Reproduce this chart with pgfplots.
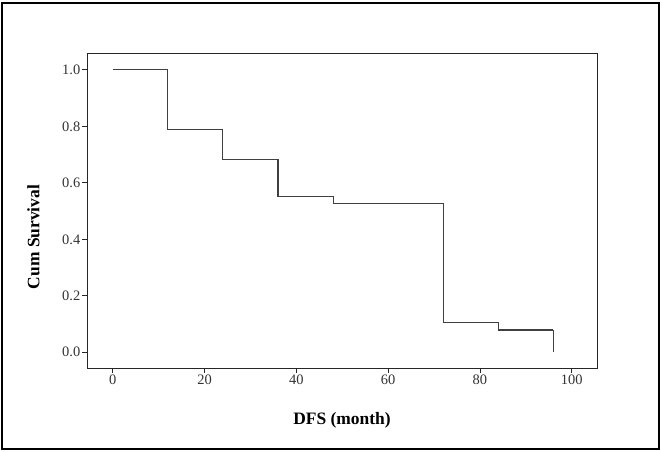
\documentclass[border=0pt]{standalone}
\usepackage{pgfplots}
\pgfplotsset{compat=1.18}
\usepackage{fontspec}
\setmainfont{Liberation Serif}
\begin{document}
\begin{tikzpicture}[x=1bp,y=1bp]
\useasboundingbox (-87,-84) rectangle (575,368);
\begin{axis}[
  at={(0,0)}, anchor=south west,
  scale only axis, width=510bp, height=315bp,
  xmin=-5.6, xmax=105.5, ymin=-0.0556, ymax=1.060,
  xtick={0,20,40,60,80,100},
  ytick={0,0.2,0.4,0.6,0.8,1.0},
  yticklabel style={/pgf/number format/fixed,/pgf/number format/fixed zerofill,/pgf/number format/precision=1,inner sep=1.5bp},
  /pgf/number format/assume math mode=true,
  tick pos=left,
  tick align=outside,
  major tick length=5bp,
  axis line style={black!85, line width=0.9pt},
  every tick/.style={black!85, line width=0.9pt},
  tick label style={font=\fontsize{14.5}{16}\selectfont, text=black!80},
  xticklabel style={inner sep=2bp},
  xlabel={\textbf{DFS (month)}},
  ylabel={\textbf{Cum Survival}},
  label style={font=\fontsize{17.5}{20}\selectfont},
  xlabel style={at={(axis description cs:0.5,-0.165)}, anchor=center},
  ylabel style={at={(axis description cs:-0.105,0.416)}, anchor=center},
  clip=false,
]
\addplot[const plot, color=black!75, line width=1.1pt] coordinates {
  (0,1.0) (12,0.789) (24,0.684) (36,0.553) (48,0.526) (72,0.105) (84,0.079) (96,0.079)
};
\addplot[color=black!75, line width=1.1pt] coordinates {(96,0.079) (96,0.0)};
\end{axis}
\draw[line width=1.6pt, black] (-85,-81) rectangle (572,365);
\end{tikzpicture}
\end{document}
